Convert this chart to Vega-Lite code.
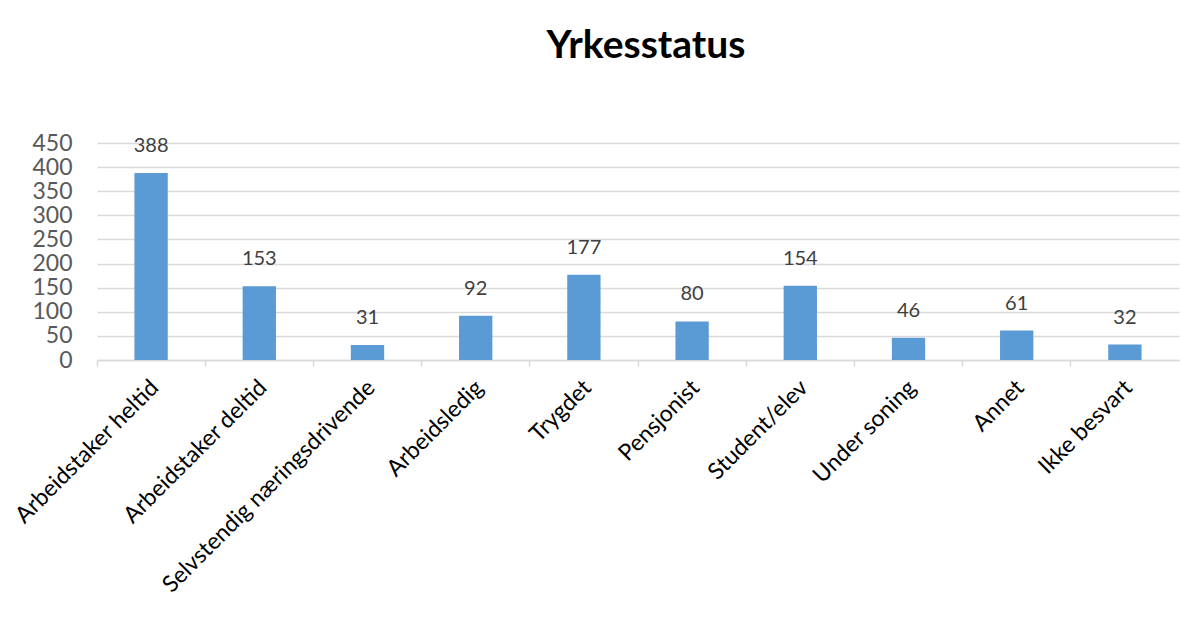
{
  "$schema": "https://vega.github.io/schema/vega-lite/v6.json",
  "autosize": {"type": "none"},
  "width": 1082,
  "height": 217,
  "padding": {"left": 97, "top": 143, "right": 3, "bottom": 279},
  "background": "white",
  "title": {
    "text": "Yrkesstatus",
    "font": "Lato",
    "fontSize": 39,
    "fontWeight": "bold",
    "color": "#000000",
    "anchor": "middle",
    "baseline": "alphabetic",
    "offset": 35,
    "dx": 8
  },
  "data": {
    "values": [
      {"status": "Arbeidstaker heltid", "antall": 388},
      {"status": "Arbeidstaker deltid", "antall": 153},
      {"status": "Selvstendig næringsdrivende", "antall": 31},
      {"status": "Arbeidsledig", "antall": 92},
      {"status": "Trygdet", "antall": 177},
      {"status": "Pensjonist", "antall": 80},
      {"status": "Student/elev", "antall": 154},
      {"status": "Under soning", "antall": 46},
      {"status": "Annet", "antall": 61},
      {"status": "Ikke besvart", "antall": 32}
    ]
  },
  "config": {
    "view": {"stroke": null},
    "font": "Lato"
  },
  "layer": [
    {
      "mark": {"type": "bar", "color": "#5B9BD5", "width": {"band": 0.308}},
      "encoding": {
        "x": {
          "field": "status",
          "type": "nominal",
          "sort": null,
          "scale": {"paddingInner": 0, "paddingOuter": 0},
          "axis": {
            "orient": "bottom",
            "title": null,
            "labelAngle": -45,
            "labelAlign": "right",
            "labelBaseline": "top",
            "labelFont": "Lato",
            "labelFontSize": 23,
            "labelColor": "#000000",
            "labelPadding": 16,
            "labelOffset": -4,
            "labelLimit": 0,
            "ticks": false,
            "domain": true,
            "domainColor": "#d9d9d9",
            "domainWidth": 1.5,
            "grid": false,
            "labelOverlap": false
          }
        },
        "y": {
          "field": "antall",
          "type": "quantitative",
          "scale": {"domain": [0, 450], "nice": false},
          "axis": {
            "title": null,
            "values": [0, 50, 100, 150, 200, 250, 300, 350, 400, 450],
            "grid": true,
            "gridColor": "#d9d9d9",
            "gridWidth": 1.5,
            "domain": false,
            "ticks": false,
            "labelFont": "Lato",
            "labelFontSize": 23,
            "labelColor": "#595959",
            "labelPadding": 25,
            "labelOverlap": false,
            "labelFlush": false
          }
        }
      }
    },
    {
      "mark": {"type": "text", "baseline": "bottom", "dy": -17, "font": "Lato", "fontSize": 20, "color": "#404040"},
      "encoding": {
        "x": {
          "field": "status",
          "type": "nominal",
          "sort": null,
          "axis": {
            "orient": "bottom",
            "bandPosition": 0,
            "labels": false,
            "domain": false,
            "grid": false,
            "ticks": true,
            "tickColor": "#d9d9d9",
            "tickWidth": 1.5,
            "tickSize": 6,
            "title": null
          }
        },
        "y": {
          "field": "antall",
          "type": "quantitative",
          "scale": {"domain": [0, 450], "nice": false},
          "axis": {
            "title": null,
            "values": [0, 50, 100, 150, 200, 250, 300, 350, 400, 450],
            "grid": true,
            "gridColor": "#d9d9d9",
            "gridWidth": 1.5,
            "domain": false,
            "ticks": false,
            "labelFont": "Lato",
            "labelFontSize": 23,
            "labelColor": "#595959",
            "labelPadding": 25,
            "labelOverlap": false,
            "labelFlush": false
          }
        },
        "text": {"field": "antall", "type": "quantitative"}
      }
    }
  ],
  "resolve": {"axis": {"x": "independent"}}
}
